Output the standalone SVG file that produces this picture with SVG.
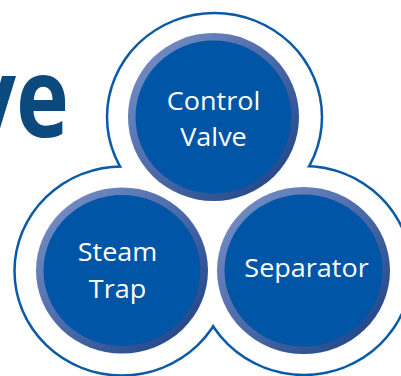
<svg xmlns="http://www.w3.org/2000/svg" width="401" height="376" viewBox="0 0 401 376">
  <defs>
    <linearGradient id="ring" x1="0" y1="0" x2="1" y2="1">
      <stop offset="0" stop-color="#7e95ca"/>
      <stop offset="0.5" stop-color="#4a69a8"/>
      <stop offset="1" stop-color="#173f80"/>
    </linearGradient>
    <style>
      .edge { fill: #ffffff; stroke: #0b5aa8; stroke-width: 5; }
      .cover { fill: #ffffff; stroke: none; }
      .ring { fill: url(#ring); }
      .core { fill: #0055a6; }
      .lbl { font-family: "Open Sans", "Liberation Sans", sans-serif; font-size: 25px; fill: #ffffff; text-anchor: middle; }
      .big { font-family: "Open Sans", "Liberation Sans", sans-serif; font-weight: 700; font-size: 112px; fill: #0c4a7e; text-anchor: end; }
    </style>
  </defs>
  <rect width="401" height="376" fill="#ffffff"/>
  <text class="big" transform="translate(69,137) scale(0.8,1)">ve</text>
  <g id="outline">
    <ellipse class="edge" cx="214.5" cy="117" rx="106.25" ry="102.75"/>
    <ellipse class="edge" cx="122" cy="271" rx="106.25" ry="103.25"/>
    <ellipse class="edge" cx="304" cy="270.5" rx="106.25" ry="103.25"/>
    <ellipse class="cover" cx="214.5" cy="117" rx="106.25" ry="102.75"/>
    <ellipse class="cover" cx="122" cy="271" rx="106.25" ry="103.25"/>
    <ellipse class="cover" cx="304" cy="270.5" rx="106.25" ry="103.25"/>
  </g>
  <g id="control-valve">
    <ellipse class="ring" cx="213.5" cy="117" rx="85.5" ry="84"/>
    <ellipse class="core" cx="213.5" cy="117" rx="78" ry="76.5"/>
    <text class="lbl" transform="translate(213.5,109.5) scale(1.08,1)">Control</text>
    <text class="lbl" transform="translate(213.5,146) scale(1.08,1)">Valve</text>
  </g>
  <g id="steam-trap">
    <ellipse class="ring" cx="122" cy="270.5" rx="86" ry="83"/>
    <ellipse class="core" cx="122" cy="270.5" rx="78.5" ry="75.5"/>
    <text class="lbl" transform="translate(117.5,261) scale(1.08,1)">Steam</text>
    <text class="lbl" transform="translate(117.5,298) scale(1.08,1)">Trap</text>
  </g>
  <g id="separator">
    <ellipse class="ring" cx="303.5" cy="270.5" rx="86.5" ry="83.5"/>
    <ellipse class="core" cx="303.5" cy="270.5" rx="79" ry="76"/>
    <text class="lbl" transform="translate(306.5,277) scale(1.08,1)">Separator</text>
  </g>
</svg>
